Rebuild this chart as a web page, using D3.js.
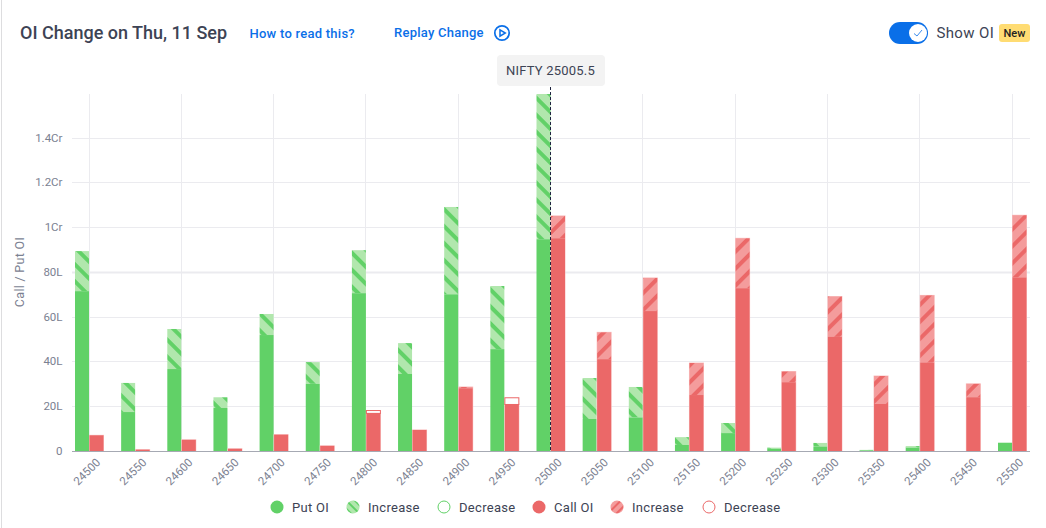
<!DOCTYPE html>
<html><head><meta charset="utf-8">
<script src="https://cdnjs.cloudflare.com/ajax/libs/d3/7.8.5/d3.min.js"></script>
<style>html,body{margin:0;padding:0;background:#fff}svg{display:block;font-family:Roboto,sans-serif}</style>
</head><body><svg id="c" width="1046" height="528"></svg>
<script>
const strikes=[24500,24550,24600,24650,24700,24750,24800,24850,24900,24950,25000,25050,25100,25150,25200,25250,25300,25350,25400,25450,25500];
// values in lakh. base = solid part, prev = top of the hatched / outlined part
const putBase=[71.4,17.4,36.6,19.2,51.8,30,70.5,34.4,70,45.5,94.6,14.3,15,2.7,8,1,2,0.3,1.5,0,3.7];
const putPrev=[89.3,30.4,54.5,24,61.2,39.7,89.7,48.2,109,73.7,165,32.6,28.6,6.2,12.5,1.5,3.6,0.5,2.2,0,3.7];
const callBase=[7,0.6,5,1,7.3,2.3,17,9.4,28,21,95,41,62.5,25,72.7,30.7,51,21,39.5,24,77.5];
const callTop=[7,0.6,5,1,7.3,2.3,18.3,9.4,28.6,24,105,53,77.3,39.3,95,35.5,69,33.5,69.5,30,105.3];
const callDecrease=[24800,24950];
const yTicks=[0,20,40,60,80,100,120,140];
const yLabels=["0","20L","40L","60L","80L","1Cr","1.2Cr","1.4Cr"];
const legendItems=[["Put OI","gs"],["Increase","gp"],["Decrease","go"],["Call OI","rs"],["Increase","rp"],["Decrease","ro"]];
const legendX=[277,353,444,539,617,709];

const GREEN="#61d167",GREENL="#b1e7ad",RED="#eb6868",REDL="#f49c9c",EDGE="#f9c4c4",GRID="#ebebef",TXT="#3d4354",AX="#7b8191",BLUE="#0a6fe8";
const svg=d3.select("#c");
const defs=svg.append("defs");
function pat(id,bg,fg,size,rot){const p=defs.append("pattern").attr("id",id).attr("patternUnits","userSpaceOnUse")
 .attr("width",size).attr("height",size).attr("patternTransform",`rotate(${rot})`);
 p.append("rect").attr("width",size).attr("height",size).attr("fill",bg);
 p.append("rect").attr("width",size).attr("height",size*0.33).attr("fill",fg);}
pat("pg",GREENL,GREEN,12,45);pat("pr",REDL,RED,12,-45);
pat("lg",GREENL,GREEN,6,45);pat("lr",REDL,RED,6,-45);

const x=d3.scalePoint().domain(strikes).range([89,1012]);
const y=d3.scaleLinear().domain([0,160]).range([451,92.8]);
const topY=94;
defs.append("clipPath").attr("id","plot").append("rect").attr("x",60).attr("y",topY).attr("width",980).attr("height",451-topY+1);

svg.append("rect").attr("x",1).attr("y",0).attr("width",1).attr("height",528).attr("fill","#dddddf");

// grid
const g=svg.append("g");
g.selectAll(".v").data(strikes.filter((d,i)=>i%2==0)).join("line")
 .attr("x1",d=>Math.floor(x(d))+.5).attr("x2",d=>Math.floor(x(d))+.5).attr("y1",topY).attr("y2",451).attr("stroke",GRID);
g.selectAll(".h").data(yTicks.slice(1)).join("line")
 .attr("x1",72).attr("x2",1030).attr("y1",d=>Math.round(y(d))+.5).attr("y2",d=>Math.round(y(d))+.5)
 .attr("stroke",GRID).attr("stroke-width",d=>d==80?2:1);
g.selectAll(".yl").data(yTicks).join("text").attr("x",62.5).attr("y",d=>y(d)+4).attr("text-anchor","end")
 .attr("font-size",11.5).attr("fill",AX).text((d,i)=>yLabels[i]);
svg.append("text").attr("transform","translate(24,272) rotate(-90)").attr("text-anchor","middle")
 .attr("font-size",12.5).attr("letter-spacing",.3).attr("fill",AX).text("Call / Put OI");

// bars
const bars=svg.append("g").attr("clip-path","url(#plot)");
const gw=14,rw=15;
strikes.forEach((s,i)=>{
 const cx=x(s);
 if(putPrev[i]>putBase[i]) bars.append("rect").attr("x",cx-gw).attr("width",gw).attr("y",y(putPrev[i])).attr("height",y(putBase[i])-y(putPrev[i])).attr("fill","url(#pg)");
 bars.append("rect").attr("x",cx-gw).attr("width",gw).attr("y",y(putBase[i])).attr("height",451-y(putBase[i])).attr("fill",GREEN);
 const top=callDecrease.includes(s)?callBase[i]:callTop[i];
 bars.append("rect").attr("x",cx).attr("width",rw).attr("y",y(top)-.5).attr("height",451-y(top)+.5).attr("fill",EDGE);
 if(callDecrease.includes(s)){
  bars.append("rect").attr("x",cx+.5).attr("width",rw-1).attr("y",y(callTop[i])+.5).attr("height",y(callBase[i])-y(callTop[i])).attr("fill","#fff").attr("stroke",RED);
 } else if(callTop[i]>callBase[i]) {
  bars.append("rect").attr("x",cx+.5).attr("width",rw-1).attr("y",y(callTop[i])).attr("height",y(callBase[i])-y(callTop[i])).attr("fill","url(#pr)");
 }
 bars.append("rect").attr("x",cx+.5).attr("width",rw-1).attr("y",y(callBase[i])).attr("height",451-y(callBase[i])).attr("fill",RED);
});
svg.append("line").attr("x1",72).attr("x2",1030).attr("y1",451.5).attr("y2",451.5).attr("stroke","#a6a9b3");

// x labels
svg.selectAll(".xl").data(strikes).join("text")
 .attr("transform",d=>`translate(${x(d)+8},459) rotate(-45)`).attr("text-anchor","end").attr("dy","0.5em")
 .attr("font-size",11.5).attr("fill",AX).text(d=>d);

// spot
const sx=Math.floor(x(25000))+.5;
svg.append("line").attr("x1",sx).attr("x2",sx).attr("y1",87).attr("y2",451).attr("stroke","#1f2440").attr("stroke-dasharray","3 2");
svg.append("rect").attr("x",497).attr("y",55).attr("width",108).attr("height",31).attr("rx",4).attr("fill","#f3f3f3");
svg.append("text").attr("x",550.5).attr("y",75).attr("text-anchor","middle").attr("font-size",13).attr("letter-spacing",.2).attr("fill",TXT).text("NIFTY 25005.5");

// header
svg.append("text").attr("x",20).attr("y",39).attr("font-size",18).attr("font-weight",500).attr("fill",TXT).text("OI Change on Thu, 11 Sep");
svg.append("text").attr("x",249.5).attr("y",38).attr("font-size",13).attr("font-weight",500).attr("letter-spacing",.25).attr("fill",BLUE).text("How to read this?");
svg.append("text").attr("x",394).attr("y",37).attr("font-size",13).attr("font-weight",500).attr("letter-spacing",.25).attr("fill",BLUE).text("Replay Change");
svg.append("circle").attr("cx",502).attr("cy",33).attr("r",7.2).attr("fill","none").attr("stroke",BLUE).attr("stroke-width",1.7);
svg.append("path").attr("d","M500 29.8L505.3 33L500 36.2Z").attr("fill","none").attr("stroke",BLUE).attr("stroke-width",1.5);
svg.append("rect").attr("x",889).attr("y",22).attr("width",39).attr("height",22).attr("rx",11).attr("fill",BLUE);
svg.append("circle").attr("cx",918).attr("cy",33).attr("r",9).attr("fill","#fff");
svg.append("path").attr("d","M914 33.5L917 36L922 30").attr("fill","none").attr("stroke",BLUE).attr("stroke-width",.8);
svg.append("text").attr("x",936.5).attr("y",38).attr("font-size",15).attr("letter-spacing",.35).attr("fill",TXT).text("Show OI");
svg.append("rect").attr("x",999).attr("y",24).attr("width",31).attr("height",18).attr("rx",3).attr("fill","#ffdc73");
svg.append("text").attr("x",1014.5).attr("y",37).attr("text-anchor","middle").attr("font-size",11).attr("font-weight",500).attr("fill","#222").text("New");

// legend
legendItems.forEach(([t,k],i)=>{
 const lx=legendX[i],cy=507;
 const col=k[0]=="g"?GREEN:RED;
 const c=svg.append("circle").attr("cx",lx).attr("cy",cy);
 if(k[1]=="s")c.attr("r",6.5).attr("fill",col);
 if(k[1]=="p")c.attr("r",6.5).attr("fill",k[0]=="g"?"url(#lg)":"url(#lr)");
 if(k[1]=="o")c.attr("r",6).attr("fill","#fff").attr("stroke",col);
 svg.append("text").attr("x",lx+15).attr("y",cy+4.5).attr("font-size",13).attr("letter-spacing",.3).attr("fill",TXT).text(t);
});
</script></body></html>
